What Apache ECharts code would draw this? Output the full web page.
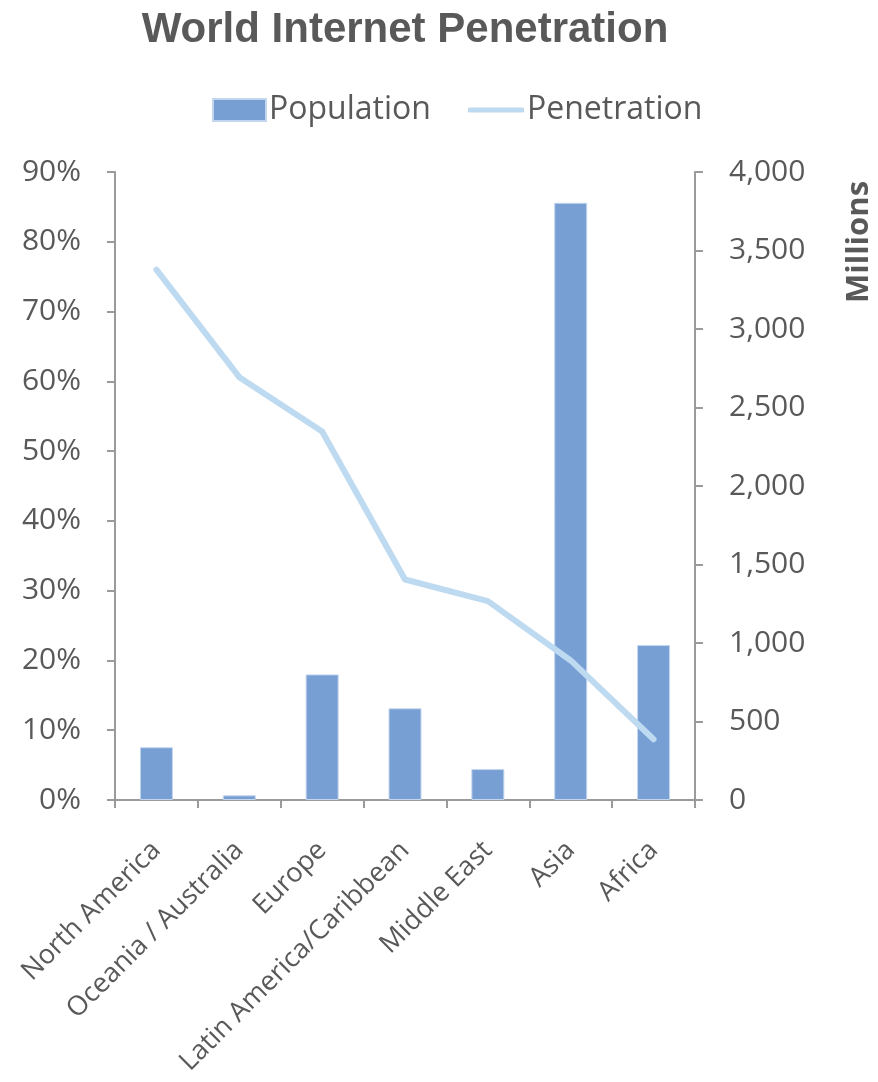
<!DOCTYPE html>
<html>
<head>
<meta charset="utf-8">
<title>World Internet Penetration</title>
<script src="https://cdn.jsdelivr.net/npm/echarts@6/dist/echarts.min.js"></script>
<style>
  html, body { margin: 0; padding: 0; background: #ffffff; }
  #chart { width: 878px; height: 1082px; }
</style>
</head>
<body>
<div id="chart"></div>
<script>
// Regions along the category axis
const regions = ['North America', 'Oceania / Australia', 'Europe', 'Latin America/Caribbean', 'Middle East', 'Asia', 'Africa'];
// Population per region, millions (right axis)
const population = [336, 30, 800, 584, 197, 3804, 987];
// Internet penetration per region, percent (left axis)
const penetration = [76.0, 60.6, 52.8, 31.6, 28.5, 20.0, 8.7];

const textColor = '#595959';
const axisColor = '#9a9a9a';
const labelFont = '"Open Sans", "Liberation Sans", sans-serif';
const legendFont = '"Liberation Sans Narrow", "Open Sans", sans-serif';
const barColor = '#779fd4';
const lineColor = '#bddaf1';

const chart = echarts.init(document.getElementById('chart'), null, { renderer: 'canvas' });

const legendText = { fontFamily: legendFont, fontSize: 32, color: textColor, padding: [0, 0, 0, -2] };

chart.setOption({
  animation: false,
  backgroundColor: '#ffffff',
  title: {
    text: 'World Internet Penetration',
    left: 400,
    textAlign: 'center',
    top: 4,
    textStyle: {
      fontFamily: '"Liberation Sans", Arial, sans-serif',
      fontWeight: 'bold',
      fontSize: 42,
      color: textColor
    }
  },
  legend: [
    {
      top: 89,
      left: 207,
      itemWidth: 53,
      itemHeight: 22,
      textStyle: legendText,
      data: [{ name: 'Population', icon: 'rect' }]
    },
    {
      top: 89,
      left: 463,
      itemWidth: 56,
      itemHeight: 5,
      textStyle: legendText,
      data: [{ name: 'Penetration', icon: 'roundRect' }]
    }
  ],
  grid: {
    left: 115,
    right: 183,
    top: 172,
    bottom: 282,
    containLabel: false
  },
  xAxis: {
    type: 'category',
    data: regions,
    axisLine: { lineStyle: { color: axisColor, width: 2 } },
    axisTick: { show: true, length: 8, lineStyle: { color: axisColor, width: 2 } },
    axisLabel: {
      rotate: 45,
      interval: 0,
      margin: 46,
      fontFamily: labelFont,
      fontSize: 27,
      color: textColor
    }
  },
  yAxis: [
    {
      type: 'value',
      min: 0,
      max: 90,
      interval: 10,
      position: 'left',
      axisLine: { show: true, lineStyle: { color: axisColor, width: 2 } },
      axisTick: { show: true, length: 8, lineStyle: { color: axisColor, width: 2 } },
      splitLine: { show: false },
      axisLabel: {
        formatter: '{value}%',
        margin: 34,
        fontFamily: labelFont,
        fontSize: 30,
        color: textColor
      }
    },
    {
      type: 'value',
      min: 0,
      max: 4000,
      interval: 500,
      position: 'right',
      axisLine: { show: true, lineStyle: { color: axisColor, width: 2 } },
      axisTick: { show: true, length: 8, lineStyle: { color: axisColor, width: 2 } },
      splitLine: { show: false },
      axisLabel: {
        formatter: v => v.toLocaleString('en-US'),
        margin: 34,
        fontFamily: labelFont,
        fontSize: 30,
        color: textColor
      }
    }
  ],
  graphic: [
    {
      type: 'text',
      x: 844,
      y: 303,
      rotation: Math.PI / 2,
      style: {
        text: 'Millions',
        fontFamily: legendFont,
        fontWeight: 'bold',
        fontSize: 31,
        fill: textColor
      }
    }
  ],
  series: [
    {
      name: 'Population',
      type: 'bar',
      yAxisIndex: 1,
      data: population,
      barWidth: 33,
      itemStyle: { color: barColor, borderColor: '#c4d6ee', borderWidth: 1 }
    },
    {
      name: 'Penetration',
      type: 'line',
      yAxisIndex: 0,
      data: penetration,
      symbol: 'none',
      lineStyle: { color: lineColor, width: 6, cap: 'round', join: 'round' },
      itemStyle: { color: lineColor }
    }
  ]
});
</script>
</body>
</html>
